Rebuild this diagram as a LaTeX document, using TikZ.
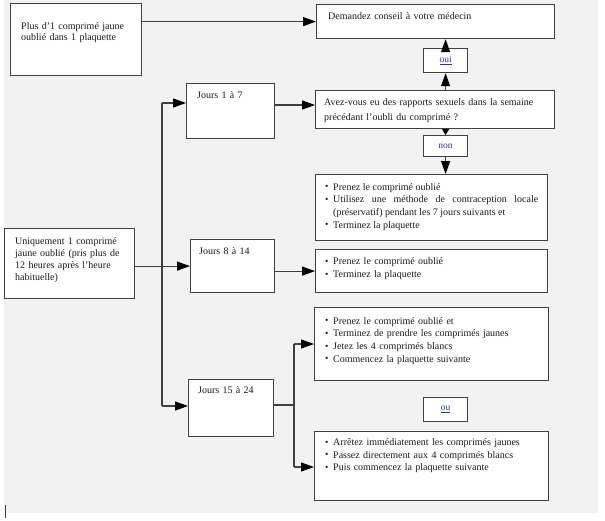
\documentclass[tikz,border=0pt]{standalone}
\usepackage{fontspec}
\setmainfont{Liberation Serif}
\usetikzlibrary{arrows.meta}
\definecolor{bg}{HTML}{F2F2F2}
\definecolor{edge}{HTML}{404040}
\definecolor{ink}{HTML}{1A1A1A}
\definecolor{lnk}{HTML}{1F3A93}
\newcommand{\itm}[1]{\hangindent=8pt\hangafter=1\noindent\makebox[8pt][l]{\raisebox{0.3pt}{\fontsize{9.5}{9.5}\selectfont\textbullet}}#1\par}
\begin{document}
\begin{tikzpicture}[x=1pt,y=-1pt,
  box/.style={draw=edge, line width=1.2pt, fill=white, inner sep=0pt, anchor=north west},
  lab/.style={box, minimum width=44pt, font=\fontsize{9.5}{11}\selectfont, text=lnk},
  txt/.style={anchor=north west, inner sep=0pt, text width=#1, align=left, text=ink},
  arr/.style={draw=edge, line width=1.1pt, -{Triangle[length=13pt,width=9pt,color=black]}},
  sarr/.style={draw=edge, line width=1.1pt, -{Triangle[length=6pt,width=7pt,color=black]}},
  ln/.style={draw=edge, line width=1.1pt}]
\useasboundingbox (0,0) rectangle (605,520);
\fill[bg] (4,0) rectangle (598,513);
\draw[edge, line width=1pt] (5,505) -- (5,518);

% boxes
\node[box, minimum width=131pt, minimum height=72pt] (A) at (10,3) {};
\node[box, minimum width=238pt, minimum height=34pt] (D) at (316,4) {};
\node[lab, minimum height=24pt] (oui) at (423,48) {\underline{oui}};
\node[box, minimum width=239pt, minimum height=38pt] (Av) at (315,90) {};
\node[lab, minimum height=21pt] (non) at (423,135) {non};
\node[box, minimum width=232pt, minimum height=66pt] (P1) at (315,174) {};
\node[box, minimum width=232pt, minimum height=43pt] (P2) at (315,249) {};
\node[box, minimum width=234pt, minimum height=73pt] (P3) at (314,307) {};
\node[lab, minimum height=24pt] (ou) at (423,397) {\underline{ou}};
\node[box, minimum width=234pt, minimum height=69pt] (P4) at (314,431) {};
\node[box, minimum width=88pt, minimum height=55pt] (J1) at (186,83) {};
\node[box, minimum width=84pt, minimum height=53pt] (J2) at (190,239) {};
\node[box, minimum width=85pt, minimum height=57pt] (J3) at (188,379) {};
\node[box, minimum width=130pt, minimum height=70pt] (U) at (4,228) {};

% texts
\node[txt=120pt, font=\fontsize{10}{11.5}\selectfont] (tA) at (21,21) {\strut Plus d'1 comprimé jaune\\oublié dans 1 plaquette};
\node[txt=220pt, font=\fontsize{10}{12.5}\selectfont] (tD) at (328,11) {\strut Demandez conseil à votre médecin};
\node[txt=225pt, font=\fontsize{10}{15}\selectfont] (tAv) at (324,94.5) {\strut Avez-vous eu des rapports sexuels dans la semaine\\précédant l'oubli du comprimé ?};
\node[txt=213pt, align=justify, font=\fontsize{10}{12.7}\selectfont] (tP1) at (325,181) {%
  \itm{\strut Prenez le comprimé oublié}
  \itm{Utilisez une méthode de contraception locale\linebreak (préservatif) pendant les 7 jours suivants et}
  \itm{Terminez la plaquette}};
\node[txt=213pt, font=\fontsize{10}{13}\selectfont] (tP2) at (325,255) {%
  \itm{\strut Prenez le comprimé oublié}
  \itm{Terminez la plaquette}};
\node[txt=220pt, font=\fontsize{10}{12.7}\selectfont] (tP3) at (325,315) {%
  \itm{\strut Prenez le comprimé oublié et}
  \itm{Terminez de prendre les comprimés jaunes}
  \itm{Jetez les 4 comprimés blancs}
  \itm{Commencez la plaquette suivante}};
\node[txt=220pt, font=\fontsize{10}{12.3}\selectfont] (tP4) at (325,437) {%
  \itm{\strut Arrêtez immédiatement les comprimés jaunes}
  \itm{Passez directement aux 4 comprimés blancs}
  \itm{Puis commencez la plaquette suivante}};
\node[txt=70pt, font=\fontsize{10}{12.5}\selectfont] (tJ1) at (197,90) {\strut Jours 1 à 7};
\node[txt=70pt, font=\fontsize{10}{12.5}\selectfont] (tJ2) at (199,246) {\strut Jours 8 à 14};
\node[txt=70pt, font=\fontsize{10}{12.5}\selectfont] (tJ3) at (198,385) {\strut Jours 15 à 24};
\node[txt=115pt, font=\fontsize{10}{12}\selectfont] (tU) at (15,235.6) {\strut Uniquement 1 comprimé\\jaune oublié (pris plus de\\12 heures après l'heure\\habituelle)};

% connectors
\draw[arr] (A.east |- D.west) -- (D.west);
\draw[arr] (oui.south |- Av.north) -- (oui.south);
\draw[arr] (oui.north) -- (oui.north |- D.south);
\draw[sarr] (non.north |- Av.south) -- (non.north);
\draw[arr] (non.south) -- (non.south |- P1.north);

\coordinate (t1) at (162,103);
\coordinate (t3) at (162,406);
\draw[ln] (t1) -- (t3);
\draw[arr] (t1) -- (J1.west |- t1);
\draw[arr] (t3) -- (J3.west |- t3);
\coordinate (o1) at (274,105);
\draw[arr] (J1.east |- o1) -- (Av.west |- o1);
\draw[arr] (U.east |- J2.west) -- (J2.west);
\draw[arr] (J2.east |- P2.west) -- (P2.west);

\coordinate (b0) at (294,405);
\draw[ln] (J3.east |- b0) -- (b0);
\coordinate (b1) at (294,344);
\coordinate (b2) at (294,467);
\draw[ln] (b1) -- (b2);
\draw[arr] (b1) -- (P3.west |- b1);
\draw[arr] (b2) -- (P4.west |- b2);
\end{tikzpicture}
\end{document}
